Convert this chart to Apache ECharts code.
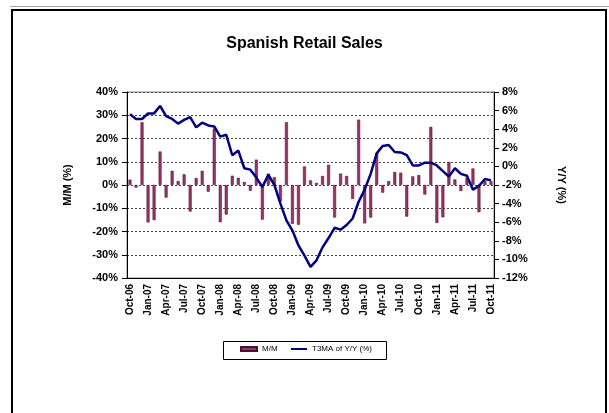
<!DOCTYPE html>
<html>
<head>
<meta charset="utf-8">
<script src="https://cdn.jsdelivr.net/npm/echarts@6/dist/echarts.min.js"></script>
<style>
  html, body { margin: 0; padding: 0; background: #fff; overflow: hidden; }
  #shade { position: absolute; left: 10px; top: 6px; width: 599px; height: 1px; background: #a0a0a0; }
  #frame { position: absolute; left: 11px; top: 9px; width: 592px; height: 420px;
           border-left: 2px solid #000; border-top: 2px solid #000; border-right: 2px solid #000; }
  #chart { position: absolute; left: 0; top: 0; width: 609px; height: 413px; }
</style>
</head>
<body>
<div id="shade"></div>
<div id="frame"></div>
<div id="chart"></div>
<script>
// Monthly categories, Oct-06 through Oct-11
const monthNames = ['Jan','Feb','Mar','Apr','May','Jun','Jul','Aug','Sep','Oct','Nov','Dec'];
const months = [];
for (let y = 2006, m = 9; y < 2011 || (y === 2011 && m <= 9); ) {
  months.push(monthNames[m] + '-' + String(y % 100).padStart(2, '0'));
  m++; if (m === 12) { m = 0; y++; }
}

// Month-on-month change, % (left axis)
const mmChange = [
  2.3, -1.1, 27.0, -16.1, -15.1, 14.4, -5.4, 6.1, 1.7, 4.6, -11.4, 3.0,
  6.1, -2.9, 24.3, -16.0, -12.7, 4.0, 3.1, 1.3, -2.5, 10.9, -14.9, 4.9,
  3.4, -7.0, 27.0, -16.7, -17.1, 8.0, 2.0, 0.9, 3.9, 8.7, -14.0, 4.9,
  3.9, -6.0, 28.1, -16.5, -14.0, 13.7, -3.3, 1.7, 5.6, 5.3, -13.6, 3.7,
  4.3, -4.1, 25.0, -16.3, -13.9, 9.9, 2.4, -2.6, 3.1, 7.1, -11.7, 1.6,
  1.6
];

// Three-month moving average of year-on-year change, % (right axis)
const t3maYoY = [
  5.6, 5.1, 5.1, 5.7, 5.7, 6.5, 5.4, 5.1, 4.6, 5.0, 5.3, 4.2,
  4.7, 4.4, 4.3, 3.2, 3.4, 1.2, 1.7, -0.2, -0.35, -1.2, -2.2, -0.9,
  -2.0, -4.0, -5.8, -6.9, -8.5, -9.6, -10.8, -10.1, -8.7, -7.7, -6.6, -6.8,
  -6.3, -5.6, -3.8, -2.5, -0.8, 1.4, 2.2, 2.3, 1.55, 1.5, 1.2, 0.1,
  0.1, 0.4, 0.4, 0.1, -0.5, -1.1, -0.2, -0.8, -1.0, -2.5, -2.1, -1.35,
  -1.5
];

const fontFam = '"Liberation Sans", Arial, sans-serif';
const legendText = { fontFamily: fontFam, fontSize: 8, color: '#000' };
const chart = echarts.init(document.getElementById('chart'), null, { renderer: 'canvas' });

chart.setOption({
  animation: false,
  backgroundColor: 'transparent',
  textStyle: { fontFamily: fontFam, color: '#000' },
  title: {
    text: 'Spanish Retail Sales',
    left: 'center',
    top: 31,
    textStyle: { fontFamily: fontFam, fontSize: 16, fontWeight: 'bold', color: '#000' }
  },
  grid: {
    left: 127, right: 115, top: 92, bottom: 135,
    show: true, borderColor: '#808080', borderWidth: 1
  },
  // legend box outline
  graphic: [{
    type: 'rect', left: 223, top: 341,
    shape: { width: 163, height: 18 },
    style: { fill: '#fff', stroke: '#000', lineWidth: 1 },
    z: -1
  }],
  legend: [
    {
      left: 240, top: 345, padding: 0,
      itemWidth: 16, itemHeight: 4, itemGap: 4,
      textStyle: legendText,
      data: [{ name: 'M/M', icon: 'rect' }]
    },
    {
      left: 291, top: 345, padding: 0,
      itemWidth: 16, itemHeight: 2, itemGap: 4,
      textStyle: legendText,
      data: [{ name: 'T3MA of Y/Y (%)', icon: 'rect' }]
    }
  ],
  xAxis: {
    type: 'category',
    data: months,
    boundaryGap: true,
    axisLine: { show: true, onZero: false, lineStyle: { color: '#000' } },
    axisTick: { show: false },
    axisLabel: { interval: 2, rotate: 90, fontSize: 10, fontWeight: 'bold', color: '#000', margin: 6, fontFamily: fontFam }
  },
  yAxis: [
    {
      type: 'value', min: -40, max: 40, interval: 10,
      name: 'M/M (%)', nameLocation: 'middle', nameGap: 54,
      nameTextStyle: { fontFamily: fontFam, fontSize: 11, fontWeight: 'bold', color: '#000' },
      axisLine: { show: true, lineStyle: { color: '#000' } },
      axisTick: { show: true, inside: false, length: 5, lineStyle: { color: '#000' } },
      axisLabel: { formatter: '{value}%', fontSize: 11, fontWeight: 'bold', color: '#000', margin: 9, fontFamily: fontFam },
      splitLine: { show: true, lineStyle: { color: '#444', type: [2, 2], width: 1 } }
    },
    {
      type: 'value', min: -12, max: 8, interval: 2,
      name: 'Y/Y (%)', nameLocation: 'middle', nameGap: 62, nameRotate: -90,
      nameTextStyle: { fontFamily: fontFam, fontSize: 11, fontWeight: 'bold', color: '#000' },
      axisLine: { show: true, lineStyle: { color: '#000' } },
      axisTick: { show: true, inside: false, length: 5, lineStyle: { color: '#000' } },
      axisLabel: { formatter: '{value}%', fontSize: 11, fontWeight: 'bold', color: '#000', margin: 8, fontFamily: fontFam },
      splitLine: { show: false }
    }
  ],
  series: [
    {
      name: 'M/M',
      type: 'bar',
      yAxisIndex: 0,
      data: mmChange,
      barWidth: 3,
      itemStyle: { color: '#993366', borderColor: '#4a1030', borderWidth: 0.5 }
    },
    {
      name: 'T3MA of Y/Y (%)',
      type: 'line',
      yAxisIndex: 1,
      data: t3maYoY,
      symbol: 'none',
      lineStyle: { color: '#000080', width: 2.5 },
      itemStyle: { color: '#000080' },
      z: 3
    }
  ]
});
</script>
</body>
</html>
